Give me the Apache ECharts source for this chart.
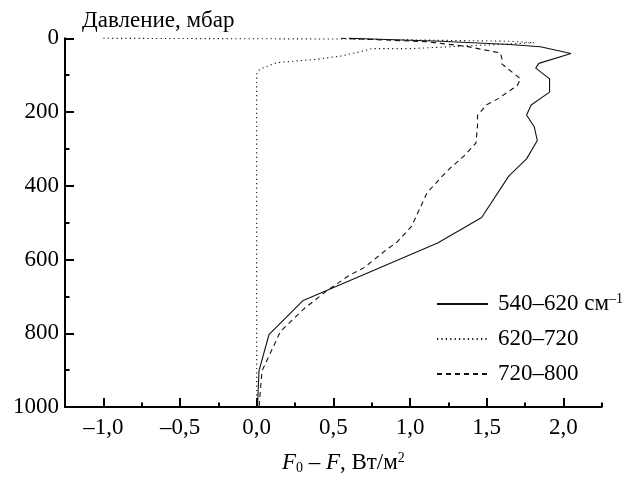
<!DOCTYPE html>
<html>
<head>
<meta charset="utf-8">
<script src="https://cdn.jsdelivr.net/npm/echarts@6/dist/echarts.min.js"></script>
<style>
  html, body { margin: 0; padding: 0; background: #fff; }
  #chart { width: 633px; height: 480px; }
</style>
</head>
<body>
<div id="chart"></div>
<script>
// Flux difference F0 − F (W/m²) versus pressure (mbar) for three spectral bands.

const bandNames = ['540–620', '620–720', '720–800'];

// 540–620 cm⁻¹ (solid)
const band1Flux     = [0.60, 1.20, 1.65, 1.85, 2.05, 1.84, 1.82, 1.91, 1.91, 1.79, 1.76, 1.81, 1.83, 1.76, 1.645, 1.467, 1.18, 0.30, 0.08, 0.015, 0.005];
const band1Pressure = [0,    8,    17,   23,   41,   68,   81,   110,  146,  181,  208,  240,  277,  327,  373,   486,   555,  712,  804,  902,   1000];

// 620–720 cm⁻¹ (dotted)
const band2Flux     = [-1.0, 0.60, 1.64, 1.81, 1.00, 0.75, 0.69, 0.55, 0.39, 0.30, 0.13, 0.02, 0.0, 0.0];
const band2Pressure = [0,    2,    8,    12,   28,   28,   35,   48,   57,   60,   66,   84,   97,  1000];

// 720–800 cm⁻¹ (dashed)
const band3Flux     = [0.55, 1.10, 1.37, 1.59, 1.60, 1.60, 1.72, 1.70, 1.57, 1.50, 1.44, 1.44, 1.43, 1.36, 1.26, 1.20, 1.11, 1.01, 0.91, 0.86, 0.70, 0.60, 0.46, 0.31, 0.155, 0.035, 0.015];
const band3Pressure = [0,    9,    22,   40,   57,   70,   110,  128,  165,  180,  209,  239,  284,  316,  353,  378,  420,  510,  555,  569,  622,  644,  684,  733,  795,   902,   1000];

const xMajorTicks = [-1.0, -0.5, 0.0, 0.5, 1.0, 1.5, 2.0];
const xMinorTicks = [-1.25, -0.75, -0.25, 0.25, 0.75, 1.25, 1.75, 2.25];
const yTickLabels = [0, 200, 400, 600, 800, 1000];

const FONT = 'Liberation Serif';
const INK = '#000';

function pairs(xs, ys) {
  return xs.map((x, i) => [x, ys[i]]);
}

function fmtComma(v) {
  const s = Math.abs(v).toFixed(1).replace('.', ',');
  return v < 0 ? '–' + s : s;
}

const chart = echarts.init(document.getElementById('chart'), null, { renderer: 'canvas' });

const commonX = {
  type: 'value',
  min: -1.25,
  max: 2.25,
  splitLine: { show: false }
};

chart.setOption({
  backgroundColor: '#fff',
  animation: false,
  grid: { left: 65, top: 38.3, right: 31.3, bottom: 66.5, containLabel: false },
  legend: {
    orient: 'vertical',
    left: 436,
    top: 292,
    padding: 0,
    itemWidth: 51,
    itemHeight: 14,
    itemGap: 11,
    data: bandNames,
    itemStyle: { opacity: 0 },
    textStyle: {
      fontFamily: FONT,
      fontSize: 23,
      color: INK,
      lineHeight: 24,
      padding: [0, 0, 0, 5],
      rich: {
        t: { fontFamily: FONT, fontSize: 23, color: INK },
        sup: { fontFamily: FONT, fontSize: 14, color: INK, verticalAlign: 'top', lineHeight: 24 }
      }
    },
    formatter: function (name) {
      return name === bandNames[0] ? '{t|' + name + ' см}{sup|–1}' : '{t|' + name + '}';
    }
  },
  xAxis: [
    Object.assign({}, commonX, {
      position: 'bottom',
      axisLine: { show: true, onZero: false, lineStyle: { color: INK, width: 2 } },
      axisTick: { show: true, inside: true, length: 9, customValues: xMajorTicks, lineStyle: { color: INK, width: 2 } },
      axisLabel: {
        show: true,
        customValues: xMajorTicks,
        margin: 9,
        fontFamily: FONT,
        fontSize: 23,
        color: INK,
        formatter: fmtComma
      },
      name: '{i|F}{sub|0}{i| – F}{n|, Вт/м}{sup|2}',
      nameLocation: 'middle',
      nameGap: 44,
      nameTextStyle: {
        fontFamily: FONT,
        fontSize: 23,
        color: INK,
        padding: [0, 0, 0, 20],
        rich: {
          i: { fontFamily: FONT, fontStyle: 'italic', fontSize: 23, color: INK },
          sub: { fontFamily: FONT, fontSize: 14, color: INK, verticalAlign: 'bottom', lineHeight: 20 },
          n: { fontFamily: FONT, fontSize: 23, color: INK },
          sup: { fontFamily: FONT, fontSize: 14, color: INK, verticalAlign: 'top', lineHeight: 24 }
        }
      }
    }),
    Object.assign({}, commonX, {
      position: 'bottom',
      axisLine: { show: false, onZero: false },
      axisTick: { show: true, inside: true, length: 4.5, customValues: xMinorTicks, lineStyle: { color: INK, width: 2 } },
      axisLabel: { show: false }
    })
  ],
  yAxis: {
    type: 'value',
    min: 0,
    max: 1000,
    interval: 200,
    inverse: true,
    splitLine: { show: false },
    axisLine: { show: true, onZero: false, lineStyle: { color: INK, width: 2 } },
    axisTick: { show: true, inside: true, length: 9, lineStyle: { color: INK, width: 2 } },
    minorTick: { show: true, splitNumber: 2, length: 4.5, lineStyle: { color: INK, width: 2 } },
    axisLabel: {
      margin: 6,
      fontFamily: FONT,
      fontSize: 23,
      color: INK,
      formatter: function (v) { return String(v); }
    },
    name: 'Давление, мбар',
    nameLocation: 'start',
    nameGap: 6,
    nameTextStyle: {
      fontFamily: FONT,
      fontSize: 23,
      color: INK,
      align: 'left',
      verticalAlign: 'bottom',
      padding: [0, 0, 0, 17]
    }
  },
  series: [
    {
      name: bandNames[0],
      type: 'line',
      data: pairs(band1Flux, band1Pressure),
      symbol: 'none',
      clip: false,
      itemStyle: { color: '#111' },
      lineStyle: { color: '#111', width: 1.1, type: 'solid' }
    },
    {
      name: bandNames[1],
      type: 'line',
      data: pairs(band2Flux, band2Pressure),
      symbol: 'none',
      clip: false,
      itemStyle: { color: '#111' },
      lineStyle: { color: '#111', width: 1.1, type: [1.2, 3.2] }
    },
    {
      name: bandNames[2],
      type: 'line',
      data: pairs(band3Flux, band3Pressure),
      symbol: 'none',
      clip: false,
      itemStyle: { color: '#111' },
      lineStyle: { color: '#111', width: 1.1, type: [5, 4] }
    }
  ]
});
</script>
</body>
</html>
